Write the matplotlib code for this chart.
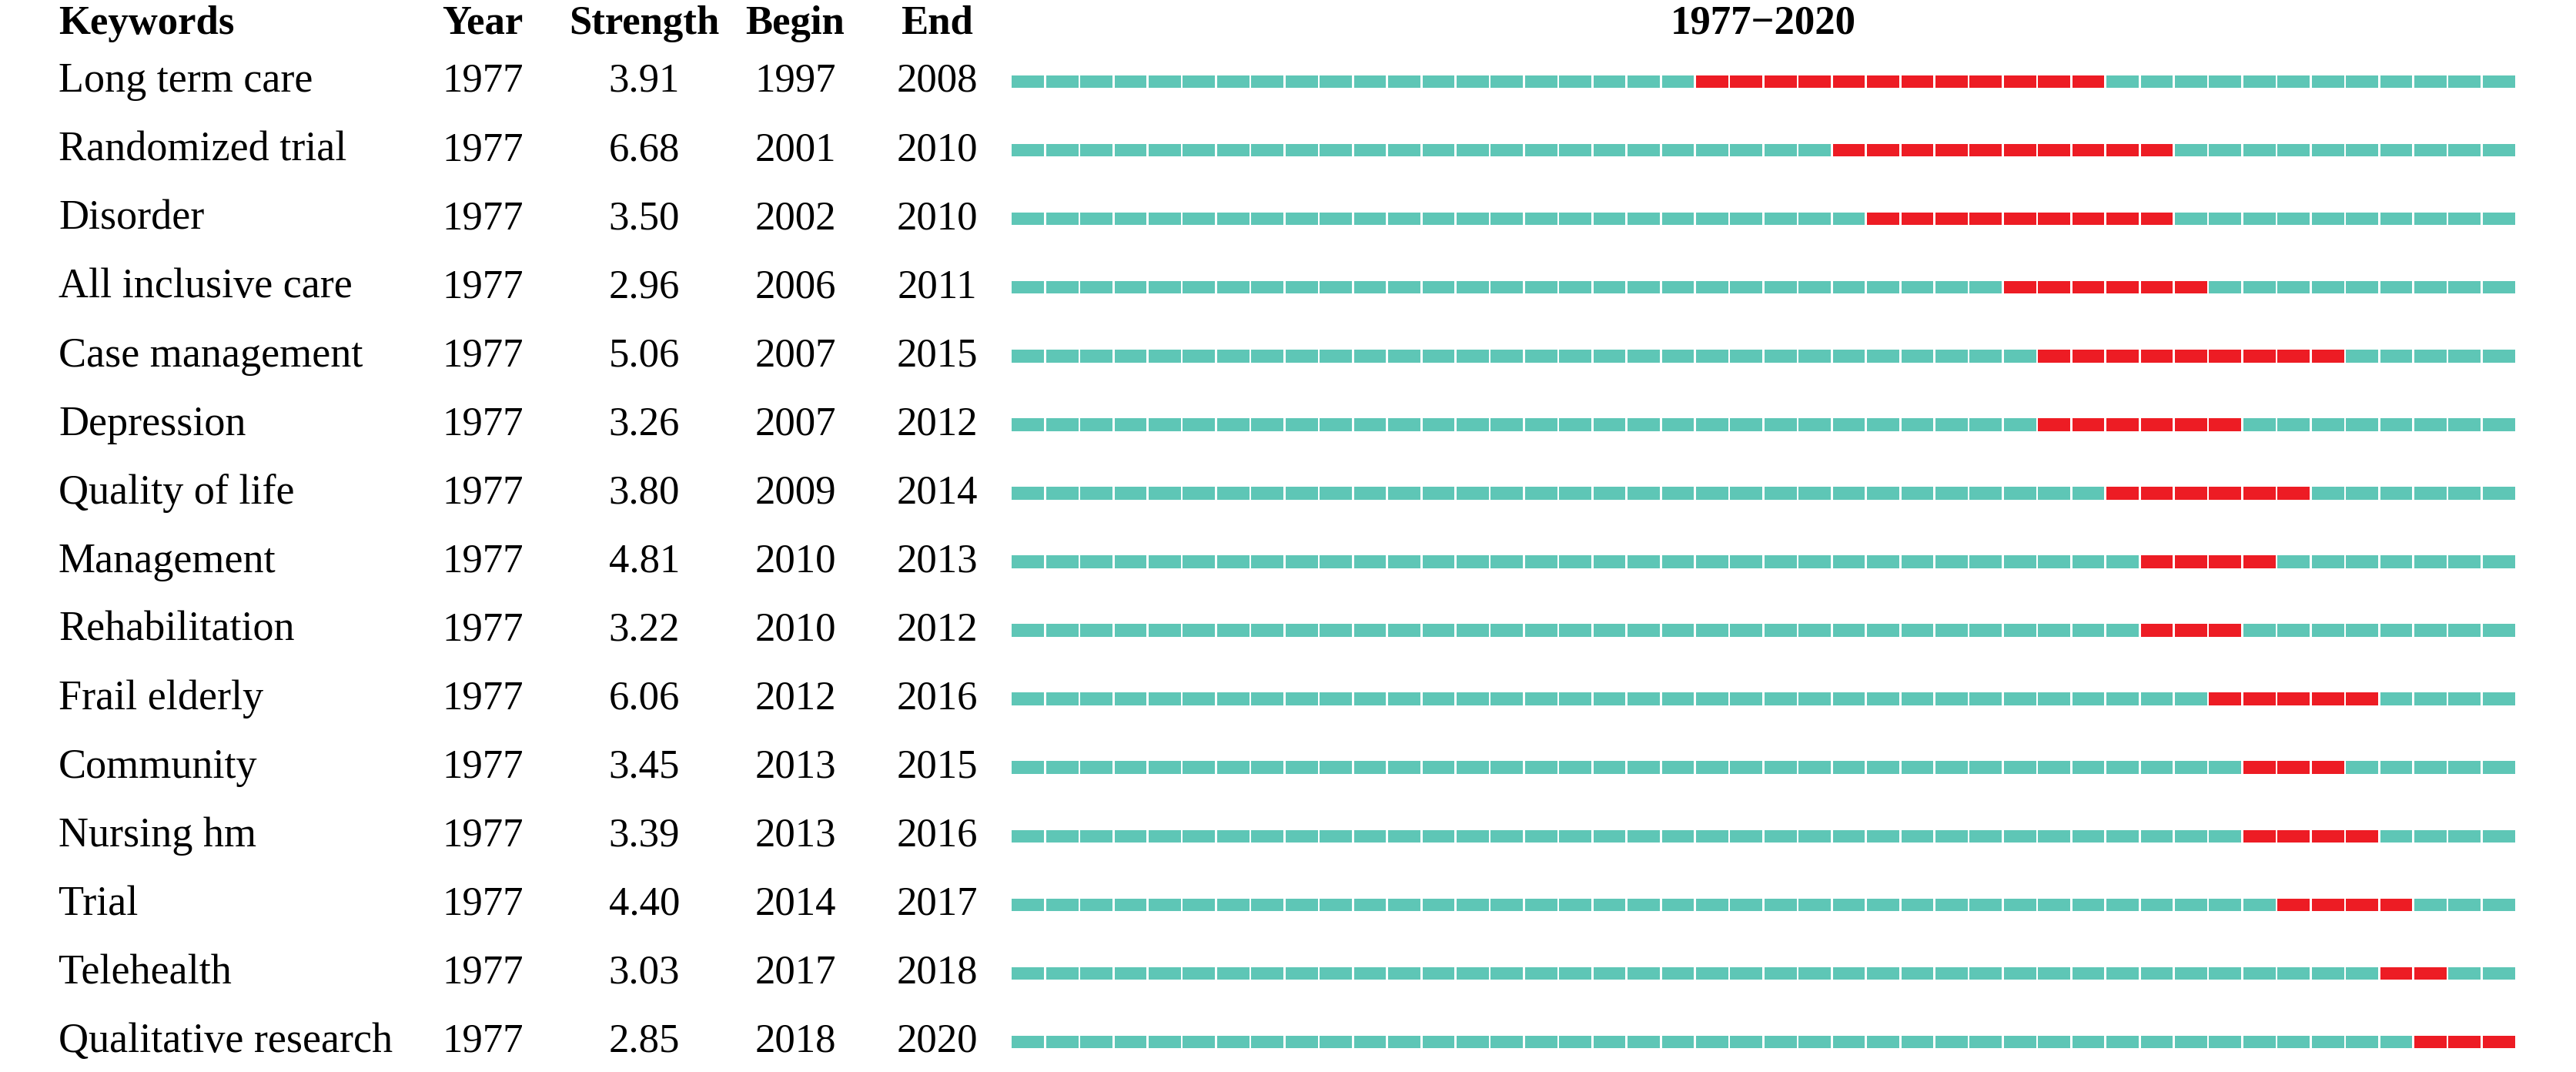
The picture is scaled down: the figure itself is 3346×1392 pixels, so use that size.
#! /usr/bin/env python3
# Keyword citation burst table, 1977-2020

import matplotlib
matplotlib.use("Agg")
import matplotlib.pyplot as plt

keywords = ["Long term care", "Randomized trial", "Disorder", "All inclusive care",
            "Case management", "Depression", "Quality of life", "Management",
            "Rehabilitation", "Frail elderly", "Community", "Nursing hm", "Trial",
            "Telehealth", "Qualitative research"]
year     = [1977] * 15
strength = [3.91, 6.68, 3.50, 2.96, 5.06, 3.26, 3.80, 4.81, 3.22, 6.06, 3.45, 3.39, 4.40, 3.03, 2.85]
begin    = [1997, 2001, 2002, 2006, 2007, 2007, 2009, 2010, 2010, 2012, 2013, 2013, 2014, 2017, 2018]
end      = [2008, 2010, 2010, 2011, 2015, 2012, 2014, 2013, 2012, 2016, 2015, 2016, 2017, 2018, 2020]
first_year = 1977
last_year  = 2020

W, H = 3346, 1392
teal = "#5ec6b6"
red  = "#ed1c24"
font = "Liberation Serif"
fs   = 38

def main():
    fig = plt.figure(figsize=(W / 100, H / 100), dpi=100)
    n = len(keywords)
    row0, pitch = 106, 89.07
    ylim = ((H - row0) / pitch, -row0 / pitch)

    # text layer: x in pixels, y in row units
    ax = fig.add_axes([0, 0, 1, 1])
    ax.set_xlim(0, W)
    ax.set_ylim(*ylim)
    ax.axis("off")

    hy = (31 - row0) / pitch
    cols = [(76, "left"), (627, "center"), (837, "center"), (1033, "center"), (1217, "center")]
    heads = ["Keywords", "Year", "Strength", "Begin", "End"]
    for (x, ha), h in zip(cols, heads):
        ax.text(x, hy, h, ha=ha, va="center", fontsize=fs, fontweight="bold", family=font)

    for i in range(n):
        vals = [keywords[i], str(year[i]), f"{strength[i]:.2f}", str(begin[i]), str(end[i])]
        for j, ((x, ha), v) in enumerate(zip(cols, vals)):
            ax.text(x, i, v, ha=ha, va="center", fontsize=fs + 1 if j == 0 else fs, family=font)

    # burst bars, one segment per year
    left, width = 1313, 1955
    bx = fig.add_axes([left / W, 0, width / W, 1])
    bx.set_xlim(first_year, last_year + 1)
    bx.set_ylim(*ylim)
    bx.axis("off")
    bx.text((first_year + last_year + 1) / 2, hy, f"{first_year}\u2212{last_year}",
            ha="center", va="center", fontsize=fs, fontweight="bold", family=font)

    gap = 0.06
    for i in range(n):
        for yr in range(first_year, last_year + 1):
            c = red if begin[i] <= yr <= end[i] else teal
            bx.barh(i, 1 - gap, left=yr + gap / 2, height=0.185, color=c, linewidth=0)

    fig.savefig("out.png", dpi=100)

if __name__ == "__main__":
    main()
